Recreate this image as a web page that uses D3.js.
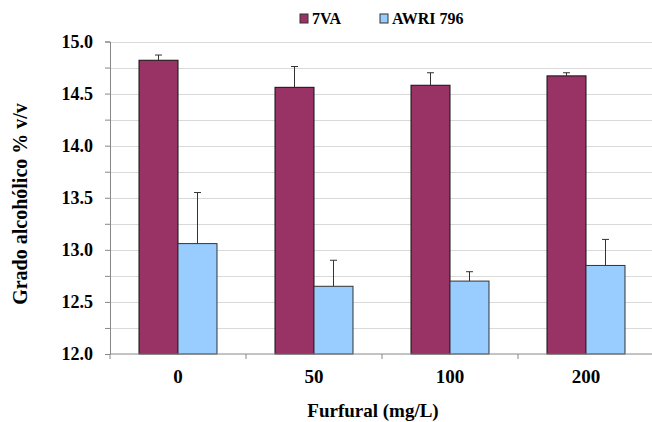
<!DOCTYPE html>
<html>
<head>
<meta charset="utf-8">
<script src="https://cdn.jsdelivr.net/npm/d3@7"></script>
<style>
  body { margin: 0; background: #fff; }
  text { font-family: "Liberation Serif", "Times New Roman", serif; font-weight: bold; fill: #000; }
</style>
</head>
<body>
<script>
	// data
	var categories = ["0", "50", "100", "200"];
	var seriesNames = ["7VA", "AWRI 796"];
	var va7 = [14.82, 14.56, 14.58, 14.67];
	var va7Err = [0.05, 0.20, 0.12, 0.03];
	var awri = [13.06, 12.65, 12.70, 12.85];
	var awriErr = [0.49, 0.25, 0.09, 0.25];
	var yTicks = [12.0, 12.5, 13.0, 13.5, 14.0, 14.5, 15.0];

	var width = 652, height = 422;
	var margin = {top: 41.5, right: -2, bottom: 68, left: 110};

	var svg = d3.select("body").append("svg")
	    .attr("width", width)
	    .attr("height", height);

	var x = d3.scaleBand()
	    .domain(categories)
	    .range([margin.left, width - margin.right]);

	var x1 = d3.scaleBand()
	    .domain(seriesNames)
	    .range([0, 78]);

	var y = d3.scaleLinear()
	    .domain([12, 15])
	    .range([height - margin.bottom, margin.top]);

	var colors = {"7VA": "#993366", "AWRI 796": "#99ccff"};

	// gridlines every 0.25
	var grid = d3.range(12.25, 15.01, 0.25);
	svg.append("g").selectAll("line")
	    .data(grid)
	    .enter().append("line")
	    .attr("x1", margin.left)
	    .attr("x2", width)
	    .attr("y1", function(d){ return Math.round(y(d)) + 0.5; })
	    .attr("y2", function(d){ return Math.round(y(d)) + 0.5; })
	    .attr("stroke", "#d9d9d9")
	    .attr("stroke-width", 1.2);

	var rows = categories.map(function(c, i){
		return [
			{cat: c, s: "7VA", v: va7[i], e: va7Err[i]},
			{cat: c, s: "AWRI 796", v: awri[i], e: awriErr[i]}
		];
	});
	var flat = d3.merge(rows);

	var off = (x.bandwidth() - 78) / 2;

	var bars = svg.append("g");
	bars.selectAll("rect")
	    .data(flat)
	    .enter().append("rect")
	    .attr("x", function(d){ return x(d.cat) + off + x1(d.s); })
	    .attr("y", function(d){ return y(d.v); })
	    .attr("width", x1.bandwidth())
	    .attr("height", function(d){ return y(12) - y(d.v); })
	    .attr("fill", function(d){ return colors[d.s]; })
	    .attr("stroke", function(d){ return d.s == "7VA" ? "#111" : "#333"; })
	    .attr("stroke-width", 1);

	// error bars (upper only)
	var err = svg.append("g").attr("stroke", "#333").attr("stroke-width", 1);
	err.selectAll("line.v")
	    .data(flat)
	    .enter().append("line")
	    .attr("class", "v")
	    .attr("x1", function(d){ return x(d.cat) + off + x1(d.s) + x1.bandwidth() / 2; })
	    .attr("x2", function(d){ return x(d.cat) + off + x1(d.s) + x1.bandwidth() / 2; })
	    .attr("y1", function(d){ return y(d.v); })
	    .attr("y2", function(d){ return y(d.v + d.e); });
	err.selectAll("line.c")
	    .data(flat)
	    .enter().append("line")
	    .attr("class", "c")
	    .attr("x1", function(d){ return x(d.cat) + off + x1(d.s) + x1.bandwidth() / 2 - 3.5; })
	    .attr("x2", function(d){ return x(d.cat) + off + x1(d.s) + x1.bandwidth() / 2 + 3.5; })
	    .attr("y1", function(d){ return y(d.v + d.e); })
	    .attr("y2", function(d){ return y(d.v + d.e); });

	// y axis
	var yAxis = d3.axisLeft(y)
	    .tickValues(d3.range(12, 15.01, 0.25))
	    .tickSize(5)
	    .tickPadding(12)
	    .tickFormat(function(d){ return yTicks.indexOf(d) >= 0 ? d3.format(".1f")(d) : ""; });
	var gy = svg.append("g")
	    .attr("transform", "translate(" + margin.left + ",0)")
	    .call(yAxis);
	gy.select(".domain").attr("stroke", "#888");
	gy.selectAll(".tick line").attr("stroke", "#888");
	gy.selectAll("text").style("font-size", "18px").style("font-family", "Liberation Serif").style("font-weight", "bold");

	// x axis
	var gx = svg.append("g")
	    .attr("transform", "translate(0," + y(12) + ")");
	gx.append("line")
	    .attr("x1", margin.left).attr("x2", width)
	    .attr("stroke", "#888");
	gx.selectAll("line.t")
	    .data(categories)
	    .enter().append("line")
	    .attr("class", "t")
	    .attr("x1", function(d){ return x(d); })
	    .attr("x2", function(d){ return x(d); })
	    .attr("y1", 0).attr("y2", 5)
	    .attr("stroke", "#888");
	gx.selectAll("text")
	    .data(categories)
	    .enter().append("text")
	    .attr("x", function(d){ return x(d) + x.bandwidth() / 2; })
	    .attr("y", 29)
	    .attr("text-anchor", "middle")
	    .style("font-size", "19px")
	    .text(function(d){ return d; });

	// titles
	svg.append("text")
	    .attr("x", 373)
	    .attr("y", 417)
	    .attr("text-anchor", "middle")
	    .style("font-size", "19px")
	    .text("Furfural (mg/L)");

	svg.append("text")
	    .attr("transform", "translate(27,204) rotate(-90)")
	    .attr("text-anchor", "middle")
	    .style("font-size", "20px")
	    .text("Grado alcohólico % v/v");

	// legend
	var legX = [300, 380];
	var leg = svg.append("g");
	seriesNames.forEach(function(s, i){
		leg.append("rect")
		    .attr("x", legX[i]).attr("y", 14)
		    .attr("width", 8).attr("height", 9)
		    .attr("fill", colors[s])
		    .attr("stroke", "#333");
		leg.append("text")
		    .attr("x", legX[i] + 12)
		    .attr("y", 24)
		    .style("font-size", "16px")
		    .text(s);
	});
</script>
</body>
</html>
